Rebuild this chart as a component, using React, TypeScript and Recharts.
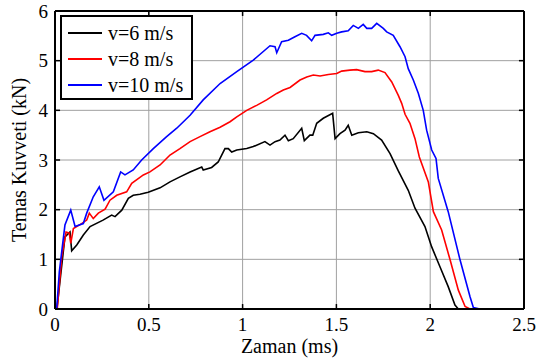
import React from 'react';
import { LineChart, Line, XAxis, YAxis, CartesianGrid, ReferenceLine } from 'recharts';

const timeTicks = [0, 0.5, 1, 1.5, 2, 2.5];
const forceTicks = [0, 1, 2, 3, 4, 5, 6];

const seriesNames = ['v=6 m/s', 'v=8 m/s', 'v=10 m/s'];
const seriesColors = ['#000000', '#ff0000', '#0000ff'];

const v6Time = [0, 0.01, 0.053, 0.08, 0.089, 0.116, 0.151, 0.187, 0.256, 0.302, 0.32, 0.356, 0.391, 0.417, 0.453, 0.497, 0.56, 0.613, 0.666, 0.72, 0.782, 0.79, 0.835, 0.87, 0.906, 0.924, 0.942, 0.969, 1.022, 1.057, 1.119, 1.146, 1.173, 1.199, 1.226, 1.244, 1.27, 1.315, 1.329, 1.359, 1.374, 1.395, 1.43, 1.48, 1.493, 1.519, 1.546, 1.563, 1.582, 1.617, 1.662, 1.697, 1.741, 1.786, 1.83, 1.883, 1.919, 1.972, 2.008, 2.052, 2.096, 2.132, 2.15, 2.5];
const v6Force = [0, 0, 1.45, 1.55, 1.17, 1.29, 1.49, 1.66, 1.79, 1.89, 1.86, 1.99, 2.23, 2.29, 2.31, 2.35, 2.44, 2.56, 2.66, 2.76, 2.86, 2.8, 2.85, 2.96, 3.23, 3.23, 3.16, 3.2, 3.23, 3.27, 3.37, 3.3, 3.37, 3.4, 3.5, 3.39, 3.43, 3.64, 3.39, 3.5, 3.5, 3.74, 3.84, 3.94, 3.43, 3.53, 3.6, 3.7, 3.5, 3.55, 3.57, 3.53, 3.4, 3.13, 2.78, 2.39, 2.03, 1.66, 1.25, 0.85, 0.45, 0.08, 0, 0];

const v8Time = [0, 0.012, 0.036, 0.059, 0.076, 0.084, 0.098, 0.142, 0.169, 0.183, 0.204, 0.231, 0.267, 0.293, 0.329, 0.382, 0.409, 0.471, 0.506, 0.56, 0.613, 0.666, 0.72, 0.773, 0.826, 0.88, 0.933, 0.969, 1.022, 1.075, 1.128, 1.182, 1.217, 1.253, 1.306, 1.342, 1.377, 1.413, 1.457, 1.502, 1.528, 1.572, 1.608, 1.652, 1.688, 1.723, 1.759, 1.795, 1.83, 1.848, 1.866, 1.892, 1.919, 1.942, 1.99, 2.017, 2.061, 2.106, 2.15, 2.186, 2.212, 2.5];
const v8Force = [0, 0, 1.05, 1.55, 1.53, 1.32, 1.62, 1.72, 1.79, 1.93, 1.82, 1.93, 2.01, 2.19, 2.29, 2.36, 2.53, 2.7, 2.76, 2.9, 3.1, 3.23, 3.37, 3.47, 3.57, 3.66, 3.77, 3.87, 4.0, 4.1, 4.21, 4.34, 4.41, 4.46, 4.61, 4.67, 4.71, 4.69, 4.72, 4.74, 4.79, 4.81, 4.82, 4.78, 4.78, 4.81, 4.76, 4.57, 4.3, 4.14, 3.92, 3.74, 3.43, 3.06, 2.56, 1.96, 1.59, 0.99, 0.38, 0.05, 0, 0];

const v10Time = [0, 0.009, 0.023, 0.053, 0.084, 0.107, 0.151, 0.169, 0.204, 0.236, 0.261, 0.311, 0.35, 0.373, 0.417, 0.462, 0.524, 0.595, 0.649, 0.72, 0.79, 0.88, 0.969, 1.057, 1.146, 1.173, 1.182, 1.208, 1.244, 1.279, 1.315, 1.341, 1.368, 1.386, 1.43, 1.457, 1.475, 1.502, 1.528, 1.563, 1.59, 1.617, 1.643, 1.662, 1.688, 1.715, 1.75, 1.768, 1.803, 1.839, 1.866, 1.883, 1.91, 1.937, 1.963, 1.981, 2.008, 2.031, 2.043, 2.096, 2.159, 2.212, 2.23, 2.265, 2.5];
const v10Force = [0, 0, 0.75, 1.69, 1.99, 1.66, 1.72, 1.93, 2.26, 2.46, 2.19, 2.36, 2.76, 2.7, 2.8, 3.0, 3.23, 3.47, 3.64, 3.9, 4.21, 4.54, 4.78, 5.01, 5.3, 5.28, 5.16, 5.38, 5.41, 5.48, 5.55, 5.51, 5.4, 5.51, 5.53, 5.56, 5.51, 5.55, 5.58, 5.6, 5.71, 5.65, 5.73, 5.65, 5.65, 5.75, 5.65, 5.58, 5.51, 5.28, 5.08, 4.84, 4.61, 4.34, 4.0, 3.6, 3.2, 3.03, 2.63, 1.96, 0.99, 0.25, 0.03, 0, 0];

const build = (t: number[], f: number[]) => t.map((x, i) => ({ t: x, f: f[i] }));
const seriesData = [build(v6Time, v6Force), build(v8Time, v8Force), build(v10Time, v10Force)];

const FONT = "'Liberation Serif', 'DejaVu Serif', serif";
const X_MAX = timeTicks[timeTicks.length - 1];
const Y_MAX = forceTicks[forceTicks.length - 1];

const LegendBox = () => (
  <div
    style={{
      position: 'absolute',
      left: 60,
      top: 15,
      boxSizing: 'border-box',
      width: 133,
      border: '2px solid #000',
      background: '#fff',
      padding: '3px 0 0 6px',
      fontFamily: FONT,
      fontSize: 20,
      color: '#000',
    }}
  >
    {seriesNames.map((n, i) => (
      <div key={n} style={{ display: 'flex', alignItems: 'center', height: 26, lineHeight: '26px', whiteSpace: 'nowrap' }}>
        <div style={{ width: 34, height: 2, backgroundColor: seriesColors[i], marginRight: 6, flexShrink: 0 }} />
        <span>{n}</span>
      </div>
    ))}
  </div>
);

export default function App() {
  const tickLen = 0.1;
  const tickLenX = 0.027;
  return (
    <div style={{ position: 'absolute', left: 0, top: 0, width: 539, height: 363, background: '#fff' }}>
      <LineChart width={539} height={363} margin={{ top: 11, right: 15, bottom: 24, left: 5 }}>
        <CartesianGrid stroke="#a0a0a0" strokeWidth={1} />
        <XAxis
          dataKey="t"
          type="number"
          domain={[0, X_MAX]}
          ticks={timeTicks}
          allowDuplicatedCategory={false}
          height={30}
          tickSize={6}
          tickMargin={3}
          tickLine={false}
          axisLine={{ stroke: '#000', strokeWidth: 2 }}
          tick={{ fontFamily: FONT, fontSize: 19, fill: '#000' }}
          label={{ value: 'Zaman (ms)', position: 'bottom', offset: 0, style: { fontFamily: FONT, fontSize: 20, fill: '#000' } }}
        />
        <YAxis
          type="number"
          domain={[0, Y_MAX]}
          ticks={forceTicks}
          width={50}
          tickSize={6}
          tickMargin={1}
          tickLine={false}
          axisLine={{ stroke: '#000', strokeWidth: 2 }}
          tick={{ fontFamily: FONT, fontSize: 19, fill: '#000' }}
          label={{
            value: 'Temas Kuvveti (kN)',
            angle: -90,
            position: 'insideLeft',
            offset: 14,
            style: { fontFamily: FONT, fontSize: 20, fill: '#000', textAnchor: 'middle' },
          }}
        />
        {timeTicks.map((t) => (
          <ReferenceLine key={'xb' + t} segment={[{ x: t, y: 0 }, { x: t, y: tickLen }]} stroke="#000" strokeWidth={1.5} />
        ))}
        {timeTicks.map((t) => (
          <ReferenceLine key={'xt' + t} segment={[{ x: t, y: Y_MAX }, { x: t, y: Y_MAX - tickLen }]} stroke="#000" strokeWidth={1.5} />
        ))}
        {forceTicks.map((v) => (
          <ReferenceLine key={'yl' + v} segment={[{ x: 0, y: v }, { x: tickLenX, y: v }]} stroke="#000" strokeWidth={1.5} />
        ))}
        {forceTicks.map((v) => (
          <ReferenceLine key={'yr' + v} segment={[{ x: X_MAX, y: v }, { x: X_MAX - tickLenX, y: v }]} stroke="#000" strokeWidth={1.5} />
        ))}
        <ReferenceLine y={Y_MAX} stroke="#000" strokeWidth={2} />
        <ReferenceLine x={X_MAX} stroke="#000" strokeWidth={2} />
        {seriesData.map((d, i) => (
          <Line
            key={seriesNames[i]}
            data={d}
            dataKey="f"
            name={seriesNames[i]}
            type="linear"
            stroke={seriesColors[i]}
            strokeWidth={1.6}
            dot={false}
            activeDot={false}
            isAnimationActive={false}
          />
        ))}
      </LineChart>
      <LegendBox />
    </div>
  );
}
